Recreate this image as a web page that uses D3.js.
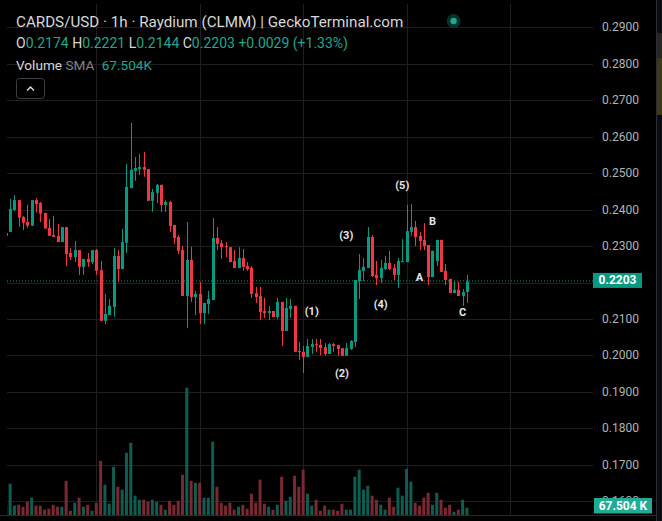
<!DOCTYPE html>
<html><head><meta charset="utf-8">
<script src="https://cdn.jsdelivr.net/npm/d3@7/dist/d3.min.js"></script>
<style>html,body{margin:0;padding:0;background:#000;}svg{display:block;}</style>
</head><body>
<script>
// ---- DATA (1h candles, CARDS/USD) ----
const opens  = [0.2328,0.2339,0.2399,0.2426,0.2380,0.2366,0.2356,0.2426,0.2418,0.2391,0.2350,0.2330,0.2328,0.2311,0.2352,0.2281,0.2270,0.2289,0.2243,0.2265,0.2256,0.2289,0.2234,0.2095,0.2111,0.2133,0.2273,0.2237,0.2309,0.2459,0.2506,0.2511,0.2517,0.2511,0.2424,0.2446,0.2468,0.2413,0.2421,0.2358,0.2325,0.2289,0.2163,0.2262,0.2160,0.2169,0.2116,0.2141,0.2152,0.2322,0.2308,0.2300,0.2297,0.2259,0.2240,0.2267,0.2245,0.2240,0.2171,0.2163,0.2122,0.2116,0.2122,0.2105,0.2147,0.2067,0.2127,0.2136,0.2012,0.2010,0.1996,0.2023,0.2031,0.2029,0.2023,0.2004,0.2031,0.2029,0.2020,0.1999,0.2018,0.2037,0.2204,0.2232,0.2240,0.2325,0.2221,0.2212,0.2237,0.2254,0.2240,0.2221,0.2256,0.2256,0.2339,0.2352,0.2328,0.2317,0.2303,0.2215,0.2259,0.2317,0.2232,0.2210,0.2171,0.2180,0.2163,0.2174];
const highs  = [0.2341,0.2429,0.2440,0.2426,0.2383,0.2413,0.2426,0.2432,0.2421,0.2391,0.2374,0.2383,0.2361,0.2352,0.2352,0.2295,0.2314,0.2289,0.2265,0.2281,0.2289,0.2292,0.2259,0.2169,0.2155,0.2295,0.2289,0.2347,0.2525,0.2638,0.2544,0.2553,0.2558,0.2511,0.2457,0.2470,0.2468,0.2426,0.2424,0.2358,0.2330,0.2300,0.2366,0.2298,0.2177,0.2202,0.2144,0.2177,0.2377,0.2352,0.2317,0.2311,0.2297,0.2289,0.2297,0.2292,0.2256,0.2245,0.2188,0.2188,0.2158,0.2136,0.2122,0.2158,0.2147,0.2158,0.2155,0.2136,0.2037,0.2026,0.2045,0.2045,0.2045,0.2045,0.2034,0.2034,0.2034,0.2029,0.2020,0.2034,0.2042,0.2207,0.2278,0.2267,0.2352,0.2330,0.2259,0.2262,0.2273,0.2287,0.2251,0.2267,0.2319,0.2413,0.2415,0.2369,0.2339,0.2363,0.2303,0.2287,0.2317,0.2317,0.2251,0.2210,0.2204,0.2202,0.2182,0.2221];
const lows   = [0.2325,0.2339,0.2396,0.2353,0.2344,0.2350,0.2355,0.2392,0.2366,0.2348,0.2328,0.2325,0.2311,0.2311,0.2245,0.2262,0.2256,0.2221,0.2221,0.2243,0.2251,0.2221,0.2095,0.2086,0.2111,0.2106,0.2202,0.2237,0.2281,0.2459,0.2479,0.2495,0.2490,0.2424,0.2394,0.2418,0.2394,0.2394,0.2339,0.2306,0.2278,0.2163,0.2075,0.2147,0.2111,0.2086,0.2086,0.2114,0.2152,0.2289,0.2265,0.2270,0.2256,0.2240,0.2240,0.2232,0.2232,0.2158,0.2144,0.2097,0.2103,0.2097,0.2105,0.2100,0.2026,0.2067,0.2103,0.2010,0.1988,0.1952,0.1996,0.2004,0.2010,0.2001,0.1999,0.2004,0.2010,0.1999,0.1999,0.1999,0.2015,0.2023,0.2155,0.2204,0.2240,0.2215,0.2193,0.2199,0.2234,0.2234,0.2207,0.2185,0.2256,0.2256,0.2328,0.2300,0.2289,0.2289,0.2193,0.2215,0.2245,0.2229,0.2193,0.2171,0.2171,0.2163,0.2136,0.2144];
const closes = [0.2336,0.2402,0.2426,0.2378,0.2364,0.2356,0.2426,0.2415,0.2389,0.2348,0.2328,0.2325,0.2311,0.2352,0.2278,0.2270,0.2289,0.2243,0.2265,0.2256,0.2289,0.2232,0.2095,0.2114,0.2136,0.2273,0.2237,0.2311,0.2462,0.2509,0.2514,0.2517,0.2509,0.2424,0.2448,0.2468,0.2413,0.2421,0.2355,0.2322,0.2287,0.2163,0.2262,0.2160,0.2169,0.2116,0.2144,0.2155,0.2322,0.2306,0.2297,0.2297,0.2256,0.2240,0.2267,0.2243,0.2237,0.2169,0.2160,0.2119,0.2116,0.2122,0.2105,0.2147,0.2067,0.2130,0.2136,0.2010,0.2010,0.1996,0.2026,0.2031,0.2029,0.2020,0.2004,0.2031,0.2026,0.2018,0.1999,0.2020,0.2040,0.2207,0.2234,0.2243,0.2325,0.2218,0.2212,0.2240,0.2254,0.2237,0.2221,0.2259,0.2259,0.2341,0.2352,0.2325,0.2314,0.2300,0.2215,0.2287,0.2317,0.2229,0.2207,0.2171,0.2180,0.2163,0.2174,0.2203];
const volumesK = [42,141,42,46,37,60,78,42,42,24,28,46,37,37,154,19,55,78,37,46,19,55,244,136,51,217,127,114,280,325,87,69,69,60,69,60,46,24,64,46,64,181,573,154,145,145,78,78,330,127,55,42,55,24,37,46,28,96,55,159,51,37,24,46,172,64,82,177,127,204,96,42,69,19,42,24,24,19,51,24,24,172,204,114,132,87,69,46,24,78,37,123,87,208,150,55,42,78,100,46,100,69,33,46,15,24,69,33];
const priceTicks = [0.29,0.28,0.27,0.26,0.25,0.24,0.23,0.21,0.20,0.19,0.18,0.17,0.16];
const dayStartIndex = [21,45,69,93,117];
const waveLabels = ["(1)","(2)","(3)","(4)","(5)","A","B","C"];
const waveIndex  = [71,78,79,87,92,96,99,106];
const wavePrice  = [0.2120,0.1950,0.2328,0.2140,0.2466,0.2213,0.2367,0.2118];
const title = "CARDS/USD · 1h · Raydium (CLMM) | GeckoTerminal.com";
const smaLabel = "67.504K";

// ---- LAYOUT ----
const W = 662, H = 521;
const svg = d3.select("body").append("svg").attr("width", W).attr("height", H);
svg.append("rect").attr("width", W).attr("height", H).attr("fill", "#000");

const x = d3.scaleLinear().domain([21, 117]).range([96.3, 510.0]);
const y = d3.scaleLinear().domain([0.16, 0.29]).range([501.3, 27.3]);
const yv = d3.scaleLinear().domain([0, 573]).range([515, 387.7]);

const plotL = 7, plotR = 593;
// right edge strip
svg.append("rect").attr("x", 657).attr("y", 0).attr("width", 5).attr("height", H).attr("fill", "#0c0c0e");
svg.append("rect").attr("x", 657).attr("y", 33).attr("width", 5).attr("height", 25).attr("fill", "#2a261f");
svg.append("rect").attr("x", 657).attr("y", 58).attr("width", 5).attr("height", 57).attr("fill", "#3d3914");
svg.append("line").attr("x1", 656.5).attr("x2", 656.5).attr("y1", 0).attr("y2", H).attr("stroke", "#2a2e39");

// grid
const grid = svg.append("g");
grid.selectAll("line.h").data(priceTicks.concat([0.22])).join("line")
  .attr("x1", plotL).attr("x2", plotR)
  .attr("y1", d => Math.round(y(d)) + 0.5).attr("y2", d => Math.round(y(d)) + 0.5)
  .attr("stroke", "#1f1f1f");
grid.selectAll("line.v").data(dayStartIndex).join("line")
  .attr("x1", d => Math.round(x(d)) + 0.5).attr("x2", d => Math.round(x(d)) + 0.5)
  .attr("y1", 4).attr("y2", 515).attr("stroke", "#1f1f1f");
svg.append("line").attr("x1", 0).attr("x2", 656).attr("y1", 515.5).attr("y2", 515.5).attr("stroke", "#2a2a2a");

svg.append("clipPath").attr("id", "c").append("rect")
  .attr("x", plotL).attr("y", 0).attr("width", plotR - plotL).attr("height", 515);
const plot = svg.append("g").attr("clip-path", "url(#c)");

const idx = d3.range(opens.length);
const up = i => closes[i] >= opens[i];

// volume
plot.selectAll("rect.vol").data(idx).join("rect")
  .attr("x", i => x(i) - 1.5).attr("width", 3)
  .attr("y", i => yv(volumesK[i])).attr("height", i => 515 - yv(volumesK[i]))
  .attr("fill", i => up(i) ? "#0f5c50" : "#7a2832");

// current price dotted line
const last = closes[closes.length - 1];
plot.append("line").attr("x1", plotL).attr("x2", plotR)
  .attr("y1", y(last) - 0.5).attr("y2", y(last) - 0.5)
  .attr("stroke", "#089981").attr("stroke-dasharray", "1,2");

// wicks
plot.selectAll("line.wick").data(idx).join("line")
  .attr("x1", i => Math.round(x(i)) + 0.5).attr("x2", i => Math.round(x(i)) + 0.5)
  .attr("y1", i => y(highs[i])).attr("y2", i => y(lows[i]))
  .attr("stroke", i => up(i) ? "#089981" : "#f23645");
// bodies
plot.selectAll("rect.body").data(idx).join("rect")
  .attr("x", i => Math.round(x(i)) - 1).attr("width", 3)
  .attr("y", i => y(Math.max(opens[i], closes[i])))
  .attr("height", i => Math.max(1, y(Math.min(opens[i], closes[i])) - y(Math.max(opens[i], closes[i]))))
  .attr("fill", i => up(i) ? "#089981" : "#f23645");

// wave labels
svg.selectAll("text.wave").data(waveLabels).join("text")
  .attr("x", (d, k) => x(waveIndex[k])).attr("y", (d, k) => y(wavePrice[k]))
  .attr("text-anchor", "middle").attr("dominant-baseline", "central")
  .attr("font-family", "Roboto, sans-serif").attr("font-weight", "bold").attr("font-size", 11)
  .attr("fill", "#e6e6e6").text(d => d);

// price axis labels
svg.selectAll("text.tick").data(priceTicks).join("text")
  .attr("x", 602).attr("y", d => y(d)).attr("dominant-baseline", "central")
  .attr("font-family", "Roboto, sans-serif").attr("font-size", 12)
  .attr("fill", "#b4b4b4").text(d => d.toFixed(4));

// last price label
svg.append("rect").attr("x", 593).attr("y", y(last) - 8.5).attr("width", 49).attr("height", 15).attr("fill", "#089981");
svg.append("text").attr("x", 617.5).attr("y", y(last) - 1).attr("text-anchor", "middle").attr("dominant-baseline", "central")
  .attr("font-family", "Roboto, sans-serif").attr("font-weight", "bold").attr("font-size", 12)
  .attr("fill", "#fff").text(last.toFixed(4));
// volume sma label
svg.append("rect").attr("x", 594).attr("y", 498).attr("width", 58).attr("height", 15.5).attr("fill", "#22ab94");
svg.append("text").attr("x", 623).attr("y", 506).attr("text-anchor", "middle").attr("dominant-baseline", "central")
  .attr("font-family", "Roboto, sans-serif").attr("font-weight", "bold").attr("font-size", 12)
  .attr("fill", "#fff").text("67.504 K");

// header
const F = "Roboto, sans-serif";
svg.append("text").attr("x", 16).attr("y", 27).attr("font-family", F).attr("font-size", 15.2)
  .attr("fill", "#d8d8d8").text(title);
svg.append("circle").attr("cx", 453.6).attr("cy", 21).attr("r", 7).attr("fill", "#0b2f2a");
svg.append("circle").attr("cx", 453.6).attr("cy", 21).attr("r", 3.2).attr("fill", "#1fa88f");

const fmt = d3.format(".4f");
const chg = last - opens[opens.length - 1];
const ohlc = svg.append("text").attr("x", 16).attr("y", 47.5).attr("font-family", F).attr("font-size", 14);
const seg = [["O","#d8d8d8"],[fmt(opens[opens.length-1]),"#1fa88f"],[" H","#d8d8d8"],[fmt(highs[highs.length-1]),"#1fa88f"],
  [" L","#d8d8d8"],[fmt(lows[lows.length-1]),"#1fa88f"],[" C","#d8d8d8"],[fmt(last),"#1fa88f"],
  [" +" + fmt(chg) + " (+" + (chg / opens[opens.length-1] * 100).toFixed(2) + "%)","#1fa88f"]];
seg.forEach(s => ohlc.append("tspan").attr("fill", s[1]).text(s[0]));

const vt = svg.append("text").attr("x", 16).attr("y", 69.5).attr("font-family", F).attr("font-size", 13.6);
vt.append("tspan").attr("fill", "#d8d8d8").text("Volume ");
vt.append("tspan").attr("fill", "#80838c").text("SMA ");
vt.append("tspan").attr("fill", "#1fa88f").attr("dx", 4).text(smaLabel);

svg.append("rect").attr("x", 16.5).attr("y", 78.5).attr("width", 28).attr("height", 20).attr("rx", 3)
  .attr("fill", "none").attr("stroke", "#3c3f46");
svg.append("path").attr("d", "M27,90.5 L30.5,87 L34,90.5").attr("fill", "none").attr("stroke", "#d8d8d8").attr("stroke-width", 1.5);
</script>
</body></html>
